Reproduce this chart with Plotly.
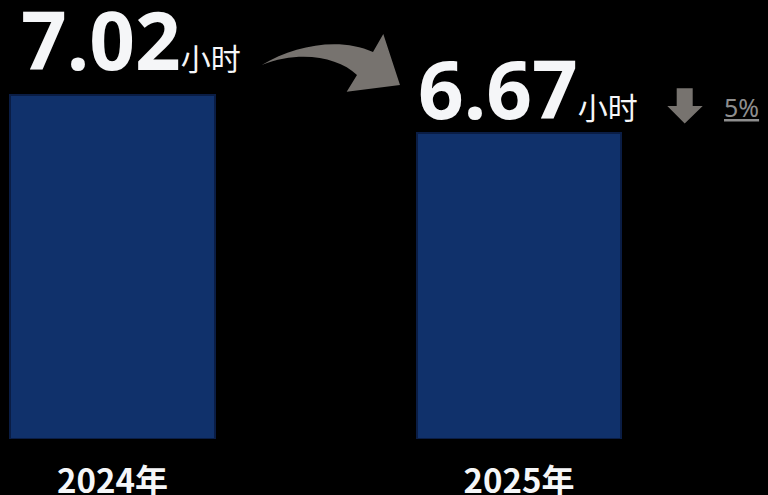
import plotly.graph_objects as go

# ---- data ----
years = ["2024年", "2025年"]
hours = [7.02, 6.67]
unit = "小时"
change_label = "5%"

# ---- layout constants ----
W, H = 768, 495
M_B = 56
PLOT_H = H - M_B
Y_MIN, Y_MAX = 3.852, 7.895
X_MIN, X_MAX = -0.2768, 1.6125

BAR_FILL = "#10316b"
BAR_EDGE = "#0a1d45"
GREY = "#77736f"
WHITE = "#f5f6f8"


def P(x, y):
    """pixel -> paper"""
    return x / W, (PLOT_H - y) / PLOT_H


def path(cmds):
    out = []
    for c in cmds:
        if isinstance(c, str):
            out.append(c)
        else:
            px, py = P(*c)
            out.append(f"{px:.5f},{py:.5f}")
    return " ".join(out)


fig = go.Figure()
fig.add_trace(go.Bar(
    x=years, y=[h - Y_MIN for h in hours], base=Y_MIN,
    width=0.504,
    marker=dict(color=BAR_FILL, line=dict(color=BAR_EDGE, width=2)),
    hoverinfo="skip",
))

# value labels
xshifts = [-94, -103]
yshifts = [0, -11]
for yr, v, xs, ys in zip(years, hours, xshifts, yshifts):
    fig.add_annotation(
        x=yr, y=v, xref="x", yref="y",
        xanchor="left", yanchor="bottom", xshift=xs, yshift=ys,
        text=f"<b>{v:.2f}</b><span style='font-size:30px'>{unit}</span>",
        showarrow=False,
        font=dict(family="Noto Sans, Noto Sans CJK SC", size=80, color=WHITE),
    )

# curved arrow
curve = path(["M", (261.7, 65), "C", (295, 45), (340, 37), (373, 52),
              "L", (383.3, 34), "L", (400, 85), "L", (346.7, 91.7), "L", (357, 75),
              "C", (338, 57), (300, 50), (261.7, 65), "Z"])
fig.add_shape(type="path", xref="paper", yref="paper", path=curve,
              fillcolor=GREY, line=dict(width=0), layer="above")

# down arrow
down = path(["M", (676.7, 88.3), "L", (692.7, 88.3), "L", (692.7, 106), "L", (702.7, 106),
             "L", (684.7, 123.5), "L", (667.3, 106), "L", (676.7, 106), "Z"])
fig.add_shape(type="path", xref="paper", yref="paper", path=down,
              fillcolor=GREY, line=dict(width=0), layer="above")

px5, py5 = P(722, 126)
fig.add_annotation(
    x=px5, y=py5, xref="paper", yref="paper", xanchor="left", yanchor="bottom",
    text=f"<u>{change_label}</u>", showarrow=False,
    font=dict(family="Noto Sans", size=25, color="#8e8e8e"),
)

fig.update_layout(
    width=W, height=H,
    margin=dict(l=0, r=0, t=0, b=M_B, pad=0, autoexpand=False),
    paper_bgcolor="#000000", plot_bgcolor="#000000",
    showlegend=False,
    bargap=0,
    xaxis=dict(range=[X_MIN, X_MAX], showgrid=False, zeroline=False, showline=False,
               automargin=False,
               ticks="", tickfont=dict(family="Noto Sans CJK SC", size=33, color=WHITE, weight="bold"),
               ticklabelstandoff=20),
    yaxis=dict(range=[Y_MIN, Y_MAX], showgrid=False, zeroline=False, showline=False,
               automargin=False, showticklabels=False, ticks=""),
)

fig.write_html(
    "out.html",
    config={"displayModeBar": False},
    post_script="document.body.style.margin='0';document.body.style.background='#000';",
)
